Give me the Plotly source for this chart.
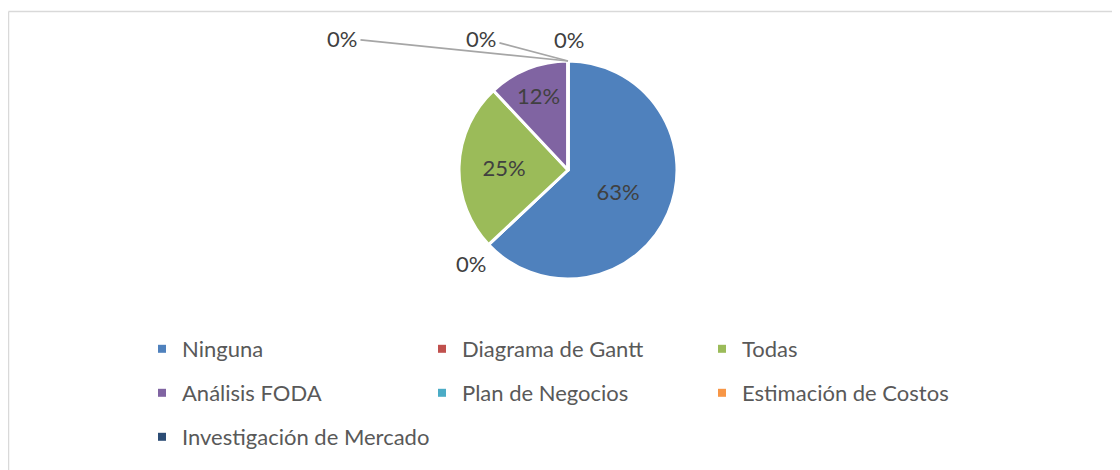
import math
import plotly.graph_objects as go

# ---------------- data ----------------
categories = ["Ninguna", "Diagrama de Gantt", "Todas", "Análisis FODA",
              "Plan de Negocios", "Estimación de Costos", "Investigación de Mercado"]
percent_values = [63, 0, 25, 12, 0, 0, 0]
colors = ["#4F81BD", "#C0504D", "#9BBB59", "#8064A2", "#4BACC6", "#F79646", "#2C4D75"]

# ---------------- layout constants ----------------
W, H = 1120, 470
OFF = 8                               # page body margin
CX, CY, R = 568 - OFF, 170 - OFF, 109  # pie centre / radius in figure pixels
FONT = "Lato"
FS = 22
TXT = "#404040"
LEG_TXT = "#595959"

fig = go.Figure()
fig.add_trace(go.Pie(
    labels=categories, values=percent_values, sort=False,
    direction="clockwise", rotation=0,
    marker=dict(colors=colors, line=dict(color="white", width=3)),
    texttemplate=["%{percent:.0%}" if v > 0 else "" for v in percent_values],
    textposition="inside", insidetextorientation="horizontal",
    textfont=dict(family=FONT, size=FS, color=TXT),
    domain=dict(x=[(CX - R) / W, (CX + R) / W], y=[1 - (CY + R) / H, 1 - (CY - R) / H]),
    showlegend=False, hoverinfo="label+percent",
))

# legend entries (three rows, like the Excel legend)
legend_ids = ["legend", "legend2", "legend3"]
for i, (cat, col) in enumerate(zip(categories, colors)):
    fig.add_trace(go.Scatter(
        x=[None], y=[None], mode="markers", name=cat,
        marker=dict(symbol="square", size=8, color=col),
        legend=legend_ids[i // 3], hoverinfo="skip",
    ))

row_y = [349 - OFF, 393 - OFF, 437 - OFF]
leg_x = 142 - OFF
legends = {}
for k, lid in enumerate(legend_ids):
    legends[lid] = dict(
        orientation="h", x=leg_x / W, xanchor="left",
        y=1 - row_y[k] / H, yanchor="middle",
        entrywidth=235 if k < 2 else 420, entrywidthmode="pixels", itemwidth=30,
        font=dict(family=FONT, size=FS, color=LEG_TXT),
        bgcolor="rgba(0,0,0,0)", traceorder="normal",
    )

# labels for the zero-value slices (Excel outside-end labels)
zero_offsets = {1: (-18, 19, False), 4: (-226, -23, True), 5: (-87, -23, True), 6: (1, -21, False)}
annotations = []
total = sum(percent_values)
cum = 0
for i, v in enumerate(percent_values):
    cum += v
    if v == 0:
        ang = 2 * math.pi * cum / total
        tx = CX + R * math.sin(ang)
        ty = CY - R * math.cos(ang)
        dx, dy, arrow = zero_offsets[i]
        if arrow:
            annotations.append(dict(
                x=tx / W, y=1 - ty / H, xref="paper", yref="paper",
                ax=dx, ay=dy, axref="pixel", ayref="pixel",
                text="0%", showarrow=True, arrowhead=0, arrowwidth=1.75,
                arrowcolor="#A6A6A6", standoff=0, startstandoff=2,
                xanchor="center", yanchor="middle",
                font=dict(family=FONT, size=FS, color=TXT),
            ))
        else:
            annotations.append(dict(
                x=(tx + dx) / W, y=1 - (ty + dy) / H, xref="paper", yref="paper",
                text="0%", showarrow=False, xanchor="center", yanchor="middle",
                font=dict(family=FONT, size=FS, color=TXT),
            ))

shapes = [
    dict(type="line", xref="paper", yref="paper", x0=0.5 / W, x1=(W + 10) / W,
         y0=1 - (11.5 - OFF) / H, y1=1 - (11.5 - OFF) / H, line=dict(color="#D9D9D9", width=1.5)),
    dict(type="line", xref="paper", yref="paper", x0=0.5 / W, x1=0.5 / W,
         y0=1 - (11.5 - OFF) / H, y1=-10 / H, line=dict(color="#D9D9D9", width=1.5)),
]

fig.update_layout(
    width=W, height=H, margin=dict(l=0, r=0, t=0, b=0),
    paper_bgcolor="white", plot_bgcolor="white",
    xaxis=dict(visible=False), yaxis=dict(visible=False),
    annotations=annotations, shapes=shapes,
    font=dict(family=FONT, color=TXT),
    **legends,
)

fig.write_html("out.html")
